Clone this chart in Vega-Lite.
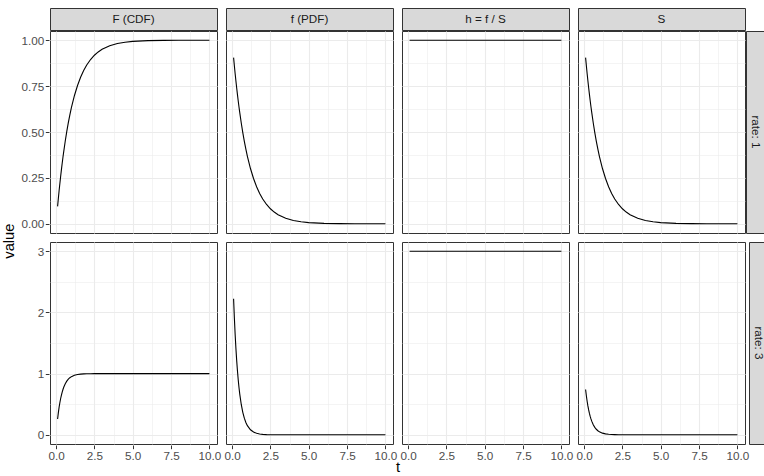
{
  "$schema": "https://vega.github.io/schema/vega-lite/v6.json",
  "padding": {"left": 2, "top": 7, "right": 0, "bottom": 0},
  "title": {"text": "value", "orient": "left", "anchor": "middle", "fontSize": 14.7, "fontWeight": "normal", "color": "#000000", "font": "Liberation Sans", "offset": 4},
  "config": {
    "font": "Liberation Sans",
    "view": {"stroke": "#333333", "strokeWidth": 1},
    "axis": {
      "gridColor": "#EBEBEB",
      "tickColor": "#333333",
      "tickSize": 3.7,
      "tickWidth": 1,
      "labelColor": "#4D4D4D",
      "labelFontSize": 11.7,
      "labelPadding": 1.5,
      "domain": false,
      "titleFontSize": 14.7,
      "titleFontWeight": "normal",
      "titleColor": "#000000",
      "labelOverlap": false,
      "labelFlush": false,
      "labelBound": false
    }
  },
  "datasets": {
    "curves": [
      {"rate": 1, "t": 0.1, "F": 0.09516, "f": 0.90484, "h": 1, "S": 0.90484},
      {"rate": 1, "t": 0.15, "F": 0.13929, "f": 0.86071, "h": 1, "S": 0.86071},
      {"rate": 1, "t": 0.2, "F": 0.18127, "f": 0.81873, "h": 1, "S": 0.81873},
      {"rate": 1, "t": 0.25, "F": 0.2212, "f": 0.7788, "h": 1, "S": 0.7788},
      {"rate": 1, "t": 0.3, "F": 0.25918, "f": 0.74082, "h": 1, "S": 0.74082},
      {"rate": 1, "t": 0.35, "F": 0.29531, "f": 0.70469, "h": 1, "S": 0.70469},
      {"rate": 1, "t": 0.4, "F": 0.32968, "f": 0.67032, "h": 1, "S": 0.67032},
      {"rate": 1, "t": 0.45, "F": 0.36237, "f": 0.63763, "h": 1, "S": 0.63763},
      {"rate": 1, "t": 0.5, "F": 0.39347, "f": 0.60653, "h": 1, "S": 0.60653},
      {"rate": 1, "t": 0.6, "F": 0.45119, "f": 0.54881, "h": 1, "S": 0.54881},
      {"rate": 1, "t": 0.7, "F": 0.50341, "f": 0.49659, "h": 1, "S": 0.49659},
      {"rate": 1, "t": 0.8, "F": 0.55067, "f": 0.44933, "h": 1, "S": 0.44933},
      {"rate": 1, "t": 0.9, "F": 0.59343, "f": 0.40657, "h": 1, "S": 0.40657},
      {"rate": 1, "t": 1.0, "F": 0.63212, "f": 0.36788, "h": 1, "S": 0.36788},
      {"rate": 1, "t": 1.2, "F": 0.69881, "f": 0.30119, "h": 1, "S": 0.30119},
      {"rate": 1, "t": 1.4, "F": 0.7534, "f": 0.2466, "h": 1, "S": 0.2466},
      {"rate": 1, "t": 1.6, "F": 0.7981, "f": 0.2019, "h": 1, "S": 0.2019},
      {"rate": 1, "t": 1.8, "F": 0.8347, "f": 0.1653, "h": 1, "S": 0.1653},
      {"rate": 1, "t": 2.0, "F": 0.86466, "f": 0.13534, "h": 1, "S": 0.13534},
      {"rate": 1, "t": 2.25, "F": 0.8946, "f": 0.1054, "h": 1, "S": 0.1054},
      {"rate": 1, "t": 2.5, "F": 0.91792, "f": 0.08208, "h": 1, "S": 0.08208},
      {"rate": 1, "t": 2.75, "F": 0.93607, "f": 0.06393, "h": 1, "S": 0.06393},
      {"rate": 1, "t": 3.0, "F": 0.95021, "f": 0.04979, "h": 1, "S": 0.04979},
      {"rate": 1, "t": 3.5, "F": 0.9698, "f": 0.0302, "h": 1, "S": 0.0302},
      {"rate": 1, "t": 4.0, "F": 0.98168, "f": 0.01832, "h": 1, "S": 0.01832},
      {"rate": 1, "t": 4.5, "F": 0.98889, "f": 0.01111, "h": 1, "S": 0.01111},
      {"rate": 1, "t": 5.0, "F": 0.99326, "f": 0.00674, "h": 1, "S": 0.00674},
      {"rate": 1, "t": 6.0, "F": 0.99752, "f": 0.00248, "h": 1, "S": 0.00248},
      {"rate": 1, "t": 7.0, "F": 0.99909, "f": 0.00091, "h": 1, "S": 0.00091},
      {"rate": 1, "t": 8.0, "F": 0.99966, "f": 0.00034, "h": 1, "S": 0.00034},
      {"rate": 1, "t": 9.0, "F": 0.99988, "f": 0.00012, "h": 1, "S": 0.00012},
      {"rate": 1, "t": 10.0, "F": 0.99995, "f": 0.00005, "h": 1, "S": 0.00005},
      {"rate": 3, "t": 0.1, "F": 0.25918, "f": 2.22245, "h": 3, "S": 0.74082},
      {"rate": 3, "t": 0.15, "F": 0.36237, "f": 1.91288, "h": 3, "S": 0.63763},
      {"rate": 3, "t": 0.2, "F": 0.45119, "f": 1.64644, "h": 3, "S": 0.54881},
      {"rate": 3, "t": 0.25, "F": 0.52763, "f": 1.4171, "h": 3, "S": 0.47237},
      {"rate": 3, "t": 0.3, "F": 0.59343, "f": 1.21971, "h": 3, "S": 0.40657},
      {"rate": 3, "t": 0.35, "F": 0.65006, "f": 1.04981, "h": 3, "S": 0.34994},
      {"rate": 3, "t": 0.4, "F": 0.69881, "f": 0.90358, "h": 3, "S": 0.30119},
      {"rate": 3, "t": 0.45, "F": 0.74076, "f": 0.77772, "h": 3, "S": 0.25924},
      {"rate": 3, "t": 0.5, "F": 0.77687, "f": 0.66939, "h": 3, "S": 0.22313},
      {"rate": 3, "t": 0.6, "F": 0.8347, "f": 0.4959, "h": 3, "S": 0.1653},
      {"rate": 3, "t": 0.7, "F": 0.87754, "f": 0.36737, "h": 3, "S": 0.12246},
      {"rate": 3, "t": 0.8, "F": 0.90928, "f": 0.27215, "h": 3, "S": 0.09072},
      {"rate": 3, "t": 0.9, "F": 0.93279, "f": 0.20162, "h": 3, "S": 0.06721},
      {"rate": 3, "t": 1.0, "F": 0.95021, "f": 0.14936, "h": 3, "S": 0.04979},
      {"rate": 3, "t": 1.2, "F": 0.97268, "f": 0.08197, "h": 3, "S": 0.02732},
      {"rate": 3, "t": 1.4, "F": 0.985, "f": 0.04499, "h": 3, "S": 0.015},
      {"rate": 3, "t": 1.6, "F": 0.99177, "f": 0.02469, "h": 3, "S": 0.00823},
      {"rate": 3, "t": 1.8, "F": 0.99548, "f": 0.01355, "h": 3, "S": 0.00452},
      {"rate": 3, "t": 2.0, "F": 0.99752, "f": 0.00744, "h": 3, "S": 0.00248},
      {"rate": 3, "t": 2.25, "F": 0.99883, "f": 0.00351, "h": 3, "S": 0.00117},
      {"rate": 3, "t": 2.5, "F": 0.99945, "f": 0.00166, "h": 3, "S": 0.00055},
      {"rate": 3, "t": 2.75, "F": 0.99974, "f": 0.00078, "h": 3, "S": 0.00026},
      {"rate": 3, "t": 3.0, "F": 0.99988, "f": 0.00037, "h": 3, "S": 0.00012},
      {"rate": 3, "t": 3.5, "F": 0.99997, "f": 0.00008, "h": 3, "S": 0.00003},
      {"rate": 3, "t": 4.0, "F": 0.99999, "f": 0.00002, "h": 3, "S": 0.00001},
      {"rate": 3, "t": 5.0, "F": 1, "f": 0, "h": 3, "S": 0},
      {"rate": 3, "t": 6.0, "F": 1, "f": 0, "h": 3, "S": 0},
      {"rate": 3, "t": 7.0, "F": 1, "f": 0, "h": 3, "S": 0},
      {"rate": 3, "t": 8.0, "F": 1, "f": 0, "h": 3, "S": 0},
      {"rate": 3, "t": 9.0, "F": 1, "f": 0, "h": 3, "S": 0},
      {"rate": 3, "t": 10.0, "F": 1, "f": 0, "h": 3, "S": 0}
    ],
    "panels": [
      {"panel": "F (CDF)", "order": 1},
      {"panel": "f (PDF)", "order": 2},
      {"panel": "h = f / S", "order": 3},
      {"panel": "S", "order": 4}
    ]
  },
  "spacing": 7,
  "vconcat": [
    {
      "spacing": -3,
      "vconcat": [
        {
          "data": {"name": "panels"},
          "facet": {"column": {"field": "order", "type": "ordinal", "header": {"labels": false, "title": null}}},
          "spacing": 7,
          "spec": {
            "width": 167,
            "height": 22,
            "view": {"fill": "#D9D9D9", "stroke": "#333333", "strokeWidth": 1},
            "mark": {"type": "text", "fontSize": 11.7, "color": "#1A1A1A", "align": "center", "baseline": "middle"},
            "encoding": {"text": {"field": "panel", "type": "nominal"}}
          }
        },
        {
          "spacing": -1,
          "hconcat": [
            {
              "data": {"name": "curves"},
              "transform": [
                {"filter": "datum.rate === 1"},
                {"fold": ["F", "f", "h", "S"], "as": ["key", "value"]}
              ],
              "facet": {"column": {"field": "key", "type": "nominal", "sort": ["F", "f", "h", "S"], "header": {"labels": false, "title": null}}},
              "spacing": 7,
              "spec": {
                "width": 167,
                "height": 202,
                "mark": {"type": "line", "color": "#000000", "strokeWidth": 1.1},
                "encoding": {
                  "x": {"field": "t", "type": "quantitative",
                    "scale": {"domain": [-0.395, 10.495], "nice": false, "zero": false},
                    "axis": {"values": [0, 1.25, 2.5, 3.75, 5, 6.25, 7.5, 8.75, 10], "labels": false, "ticks": false, "title": null,
                      "gridWidth": {"condition": {"test": "datum.value % 2.5 !== 0", "value": 0.55}, "value": 1.1}}},
                  "y": {"field": "value", "type": "quantitative",
                    "scale": {"domain": [-0.05, 1.05], "nice": false, "zero": false},
                    "axis": {"values": [0, 0.125, 0.25, 0.375, 0.5, 0.625, 0.75, 0.875, 1], "title": null,
                      "labelExpr": "(datum.value * 4) % 1 === 0 ? format(datum.value, '.2f') : ''",
                      "tickOpacity": {"condition": {"test": "(datum.value * 4) % 1 !== 0", "value": 0}, "value": 1},
                      "gridWidth": {"condition": {"test": "(datum.value * 4) % 1 !== 0", "value": 0.55}, "value": 1.1}}}
                }
              }
            },
            {
              "data": {"values": [{"label": "rate: 1"}]},
              "width": 19,
              "height": 202,
              "view": {"fill": "#D9D9D9", "stroke": "#333333", "strokeWidth": 1},
              "mark": {"type": "text", "fontSize": 11.7, "color": "#1A1A1A", "align": "center", "baseline": "middle", "angle": 90},
              "encoding": {"text": {"field": "label", "type": "nominal"}}
            }
          ]
        }
      ]
    },
    {
      "spacing": -1,
      "hconcat": [
        {
          "data": {"name": "curves"},
          "transform": [
            {"filter": "datum.rate === 3"},
            {"fold": ["F", "f", "h", "S"], "as": ["key", "value"]}
          ],
          "facet": {"column": {"field": "key", "type": "nominal", "sort": ["F", "f", "h", "S"],
            "header": {"labels": false, "title": "t", "titleOrient": "bottom", "titleFontSize": 14.7, "titleFontWeight": "normal", "titleColor": "#000000", "titlePadding": -12, "titleFont": "Liberation Sans"}}},
          "spacing": 7,
          "spec": {
            "width": 167,
            "height": 202,
            "mark": {"type": "line", "color": "#000000", "strokeWidth": 1.1},
            "encoding": {
              "x": {"field": "t", "type": "quantitative",
                "scale": {"domain": [-0.395, 10.495], "nice": false, "zero": false},
                "axis": {"values": [0, 1.25, 2.5, 3.75, 5, 6.25, 7.5, 8.75, 10], "title": null,
                  "labelExpr": "datum.value % 2.5 === 0 ? format(datum.value, '.1f') : ''",
                  "tickOpacity": {"condition": {"test": "datum.value % 2.5 !== 0", "value": 0}, "value": 1},
                  "gridWidth": {"condition": {"test": "datum.value % 2.5 !== 0", "value": 0.55}, "value": 1.1}}},
              "y": {"field": "value", "type": "quantitative",
                "scale": {"domain": [-0.15, 3.15], "nice": false, "zero": false},
                "axis": {"values": [0, 0.5, 1, 1.5, 2, 2.5, 3], "title": null,
                  "labelExpr": "datum.value % 1 === 0 ? format(datum.value, 'd') : ''",
                  "tickOpacity": {"condition": {"test": "datum.value % 1 !== 0", "value": 0}, "value": 1},
                  "gridWidth": {"condition": {"test": "datum.value % 1 !== 0", "value": 0.55}, "value": 1.1}}}
            }
          }
        },
        {
          "data": {"values": [{"label": "rate: 3"}]},
          "width": 19,
          "height": 202,
          "view": {"fill": "#D9D9D9", "stroke": "#333333", "strokeWidth": 1},
          "mark": {"type": "text", "fontSize": 11.7, "color": "#1A1A1A", "align": "center", "baseline": "middle", "angle": 90},
          "encoding": {"text": {"field": "label", "type": "nominal"}}
        }
      ]
    }
  ]
}
